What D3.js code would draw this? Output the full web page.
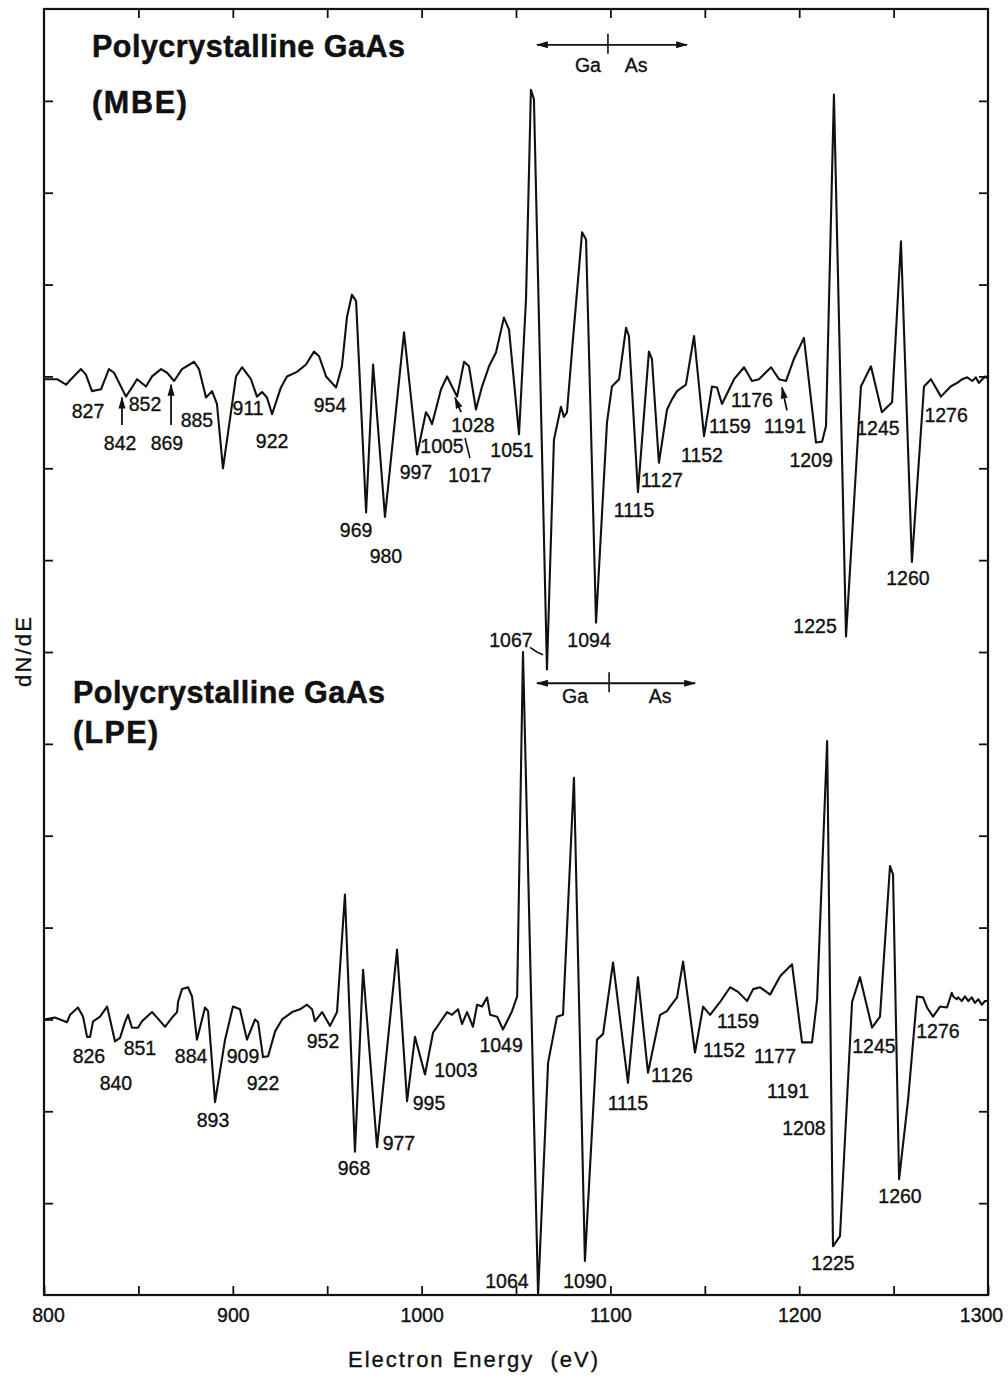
<!DOCTYPE html>
<html>
<head>
<meta charset="utf-8">
<script src="https://cdn.jsdelivr.net/npm/d3@7"></script>
<style>
  body { margin: 0; background: #fff; }
  text { font-family: "Liberation Sans", Arial, Helvetica, sans-serif; fill: #111; }
  .num { stroke: #111; stroke-width: 0.35px; }
</style>
</head>
<body>
<svg id="chart" width="1008" height="1379"></svg>
<script>
// Auger derivative spectra dN/dE vs. electron energy (eV), two GaAs samples.
// Signals are in arbitrary units (1 unit = one tick spacing of the dN/dE axis).

const mbeEnergy = [
  800.0, 806.9, 811.7, 814.3, 819.6, 822.2, 825.4, 830.2, 834.4, 837.1,
  843.4, 846.6, 849.3, 854.0, 857.2, 862.0, 865.2, 868.9, 873.1, 879.5,
  882.1, 885.8, 889.0, 891.6, 894.8, 901.7, 904.9, 909.6, 912.8, 915.5,
  918.1, 920.8, 925.5, 928.7, 934.0, 938.8, 943.0, 945.7, 949.4, 954.7,
  957.8, 960.5, 963.1, 965.3, 970.6, 974.3, 980.6, 990.7, 997.6, 1002.3,
  1003.9, 1005.5, 1010.3, 1013.5, 1016.1, 1018.8, 1022.5, 1025.1, 1028.8, 1032.0,
  1035.7, 1039.4, 1043.6, 1046.3, 1051.6, 1055.3, 1057.9, 1059.5, 1066.4, 1070.1,
  1073.8, 1075.4, 1077.0, 1079.7, 1085.0, 1087.1, 1092.4, 1098.2, 1100.8, 1104.6,
  1108.3, 1109.8, 1114.6, 1120.4, 1122.0, 1125.7, 1130.0, 1132.6, 1135.3, 1140.0,
  1144.3, 1149.6, 1153.8, 1156.5, 1159.1, 1165.5, 1170.8, 1175.0, 1178.7, 1185.1,
  1189.3, 1193.0, 1197.2, 1202.5, 1208.9, 1212.1, 1214.2, 1218.4, 1224.8, 1232.7,
  1238.0, 1243.8, 1249.2, 1253.9, 1259.7, 1266.1, 1269.8, 1275.1, 1280.2, 1283.7,
  1286.4, 1289.0, 1291.7, 1293.5, 1295.2, 1297.0, 1298.8, 1300.0
];
const mbeSignal = [
  -0.03, -0.03, -0.09, -0.03, 0.08, 0.02, -0.16, -0.14, 0.08, 0.04,
  -0.22, -0.12, -0.03, -0.11, 0.00, 0.08, 0.04, -0.05, 0.08, 0.16,
  0.08, -0.23, -0.16, -0.30, -1.00, 0.00, 0.10, -0.03, -0.22, -0.17,
  -0.23, -0.41, -0.12, 0.00, 0.05, 0.13, 0.27, 0.22, 0.00, -0.12,
  0.11, 0.65, 0.89, 0.82, -1.48, 0.13, -1.53, 0.48, -0.85, -0.39,
  -0.44, -0.52, -0.14, 0.00, -0.11, -0.22, 0.16, 0.11, -0.36, -0.11,
  0.11, 0.26, 0.64, 0.51, -0.63, 0.84, 3.12, 3.02, -3.19, -0.69,
  -0.33, -0.44, -0.39, 0.29, 1.57, 1.49, -2.68, -0.50, -0.11, -0.03,
  0.53, 0.44, -1.26, 0.27, 0.19, -0.94, -0.36, -0.25, -0.16, -0.09,
  0.44, -0.65, -0.11, -0.12, -0.30, -0.03, 0.10, -0.05, -0.03, 0.10,
  -0.03, -0.05, 0.19, 0.42, -0.72, -0.71, -0.54, 3.07, -2.83, -0.11,
  0.11, -0.39, -0.28, 1.47, -2.02, -0.11, -0.03, -0.22, -0.11, -0.07,
  -0.03, -0.01, -0.05, -0.01, -0.07, -0.03, 0.00, -0.03
];

const lpeEnergy = [
  800.0, 805.8, 812.2, 813.8, 818.0, 820.7, 822.8, 824.4, 826.0, 829.7,
  833.4, 835.0, 837.6, 840.3, 842.9, 844.5, 846.6, 849.8, 851.9, 857.2,
  859.9, 864.1, 867.8, 870.5, 871.0, 873.1, 876.3, 878.4, 881.0, 885.3,
  886.9, 890.6, 895.9, 900.1, 903.8, 907.5, 911.8, 913.4, 916.0, 918.7,
  922.4, 926.1, 931.4, 935.6, 939.3, 942.0, 943.5, 947.3, 951.5, 955.2,
  959.4, 964.7, 969.0, 976.4, 987.0, 992.3, 996.5, 1001.8, 1006.1, 1008.2,
  1013.5, 1016.1, 1019.3, 1021.4, 1024.1, 1027.2, 1029.4, 1032.0, 1034.7, 1036.3,
  1040.0, 1043.1, 1047.9, 1050.6, 1053.7, 1061.7, 1067.0, 1071.7, 1074.9, 1080.7,
  1086.5, 1092.9, 1096.1, 1101.4, 1109.3, 1114.6, 1119.9, 1126.3, 1130.0, 1131.6,
  1135.3, 1138.5, 1144.8, 1149.1, 1152.8, 1158.1, 1163.4, 1167.6, 1172.4, 1175.6,
  1179.3, 1184.6, 1189.9, 1196.2, 1201.5, 1206.8, 1209.5, 1214.8, 1217.9, 1221.6,
  1228.0, 1232.2, 1238.6, 1242.8, 1248.1, 1249.7, 1252.9, 1257.7, 1262.4, 1265.6,
  1267.7, 1270.9, 1274.6, 1278.3, 1280.8, 1281.6, 1283.4, 1284.2, 1286.1, 1287.8,
  1289.6, 1291.4, 1293.1, 1294.9, 1296.7, 1298.4, 1300.0
];
const lpeSignal = [
  0.00, 0.02, -0.03, 0.05, 0.13, 0.03, -0.19, -0.19, -0.02, 0.03,
  0.14, 0.00, -0.24, -0.20, -0.03, 0.05, -0.09, -0.09, -0.02, 0.08,
  0.02, -0.08, 0.02, 0.08, 0.19, 0.33, 0.35, 0.25, -0.22, 0.13,
  0.09, -0.90, -0.22, 0.14, 0.11, -0.22, 0.00, -0.03, -0.41, -0.40,
  -0.13, 0.00, 0.08, 0.11, 0.16, 0.11, -0.02, 0.08, -0.07, 0.08,
  1.36, -1.44, 0.54, -1.39, 0.76, -0.89, -0.19, -0.60, -0.14, -0.08,
  0.08, 0.05, 0.11, -0.05, 0.08, -0.08, 0.16, 0.14, 0.24, 0.05,
  0.03, -0.11, 0.09, 0.25, 4.00, -3.00, -0.47, 0.03, 0.05, 2.63,
  -2.63, -0.22, -0.16, 0.62, -0.69, 0.46, -0.58, 0.05, 0.09, 0.14,
  0.24, 0.63, -0.36, 0.14, 0.05, 0.19, 0.35, 0.30, 0.20, 0.33,
  0.35, 0.27, 0.47, 0.60, -0.25, -0.25, 0.22, 3.03, -2.47, -2.36,
  0.19, 0.46, -0.09, 0.03, 1.67, 1.58, -1.74, -0.87, 0.25, 0.24,
  0.13, 0.03, 0.14, 0.13, 0.29, 0.25, 0.22, 0.24, 0.20, 0.25,
  0.20, 0.24, 0.18, 0.22, 0.16, 0.20, 0.20
];

// vertical offsets of the two traces on the dN/dE axis
const mbeOffset = 10;
const lpeOffset = 3;

// axis ticks
const xTickValues = [800, 850, 900, 950, 1000, 1050, 1100, 1150, 1200, 1250, 1300];
const xTickLabels = ["800", "", "900", "", "1000", "", "1100", "", "1200", "", "1300"];
const yTickValues = [1, 2, 3, 4, 5, 6, 7, 8, 9, 10, 11, 12, 13];

// peak energies (eV) labelled on each trace
const mbePeaks = ["827", "842", "852", "869", "885", "911", "922", "954", "969", "980",
  "997", "1005", "1017", "1028", "1051", "1067", "1094", "1115", "1127", "1152",
  "1159", "1176", "1191", "1209", "1225", "1245", "1260", "1276"];
const lpePeaks = ["826", "840", "851", "884", "893", "909", "922", "952", "968", "977",
  "995", "1003", "1049", "1064", "1090", "1115", "1126", "1152", "1159", "1177",
  "1191", "1208", "1225", "1245", "1260", "1276"];

// where each peak label sits: [energy, dN/dE axis value] of the text baseline centre
const mbeLabelAt = [
  [823.3, 9.55], [840.3, 9.20], [853.5, 9.62], [865.1, 9.20], [881.0, 9.45], [908.1, 9.58],
  [920.8, 9.22], [951.5, 9.61], [965.3, 8.25], [981.1, 7.97], [997.0, 8.88], [1010.8, 9.17],
  [1025.6, 8.85], [1027.2, 9.39], [1047.9, 9.12], [1047.3, 7.05], [1088.7, 7.05], [1112.5, 8.47],
  [1127.3, 8.80], [1148.5, 9.07], [1163.3, 9.38], [1175.0, 9.67], [1192.5, 9.38], [1206.3, 9.01],
  [1208.4, 7.21], [1241.7, 9.36], [1257.6, 7.73], [1277.8, 9.50]
];
const lpeLabelAt = [
  [823.8, 2.53], [838.1, 2.23], [850.8, 2.61], [877.9, 2.53], [889.5, 1.83], [905.4, 2.53],
  [916.0, 2.23], [947.8, 2.69], [964.2, 1.31], [988.0, 1.58], [1003.9, 2.01], [1018.2, 2.37],
  [1042.1, 2.65], [1045.2, 0.08], [1086.5, 0.08], [1109.3, 2.01], [1132.6, 2.32], [1160.2, 2.59],
  [1167.6, 2.91], [1187.2, 2.53], [1194.1, 2.14], [1202.5, 1.74], [1217.9, 0.27], [1239.6, 2.63],
  [1253.4, 1.00], [1273.5, 2.80]
];

// pointer arrows and leader lines (energy, axis value pairs)
const arrowPointers = [
  [[841.3, 9.47], [841.3, 9.77]],
  [[867.3, 9.47], [867.3, 9.91]],
  [[1020.9, 9.61], [1017.7, 9.77]],
  [[1193.5, 9.63], [1190.9, 9.88]]
];
const leaderLines = [
  [[1023.0, 9.33], [1025.6, 9.11]],
  [[1057.4, 7.05], [1061.1, 7.00], [1064.3, 6.97]]
];

// Ga | As region markers
const regionMarkers = [
  { from: 1061.1, to: 1140.6, split: 1098.7, level: 13.61, textLevel: 13.31, ga: 1088.1, as: 1113.6 },
  { from: 1061.1, to: 1144.9, split: 1099.3, level: 6.66, textLevel: 6.44, ga: 1081.3, as: 1126.3 }
];

// sample titles
const titles = [
  { lines: ["Polycrystalline GaAs", "(MBE)"], at: [[825.4, 13.48], [825.4, 12.87]], len: [313, 95] },
  { lines: ["Polycrystalline GaAs", "(LPE)"], at: [[815.4, 6.44], [815.4, 6.01]], len: [312, 85] }
];

const svg = d3.select("#chart");
const x = d3.scaleLinear().domain([800, 1300]).range([44, 988]);
const y = d3.scaleLinear().domain([0, 14]).range([1295, 9]);

const defs = svg.append("defs");
defs.append("marker")
  .attr("id", "head").attr("viewBox", "0 0 12 8")
  .attr("refX", 11).attr("refY", 4)
  .attr("markerWidth", 12).attr("markerHeight", 8)
  .attr("markerUnits", "userSpaceOnUse")
  .attr("orient", "auto-start-reverse")
  .append("path").attr("d", "M0,0.5 L12,4 L0,7.5 Z").attr("fill", "#111");

// frame
svg.append("rect")
  .attr("x", x(800)).attr("y", y(14))
  .attr("width", x(1300) - x(800)).attr("height", y(0) - y(14))
  .attr("fill", "none").attr("stroke", "#111").attr("stroke-width", 2.2);

// axes with inward ticks
const tickStyle = g => {
  g.select(".domain").remove();
  g.selectAll(".tick line").attr("stroke", "#111").attr("stroke-width", 1.8);
};
const bottom = svg.append("g").attr("transform", `translate(0,${y(0)})`)
  .call(d3.axisBottom(x).tickValues(xTickValues)
    .tickFormat((d, i) => xTickLabels[i]).tickSizeInner(-9).tickSizeOuter(0).tickPadding(13))
  .call(tickStyle);
bottom.selectAll(".tick text")
  .attr("class", "num")
  .attr("font-size", 19.5).attr("fill", "#111")
  .attr("font-family", "'Liberation Sans', Arial, Helvetica, sans-serif")
  .attr("dx", d => d === 800 ? 4 : d === 1300 ? -7 : 0);

svg.append("g").attr("transform", `translate(0,${y(14)})`)
  .call(d3.axisTop(x).tickValues(xTickValues.slice(1, -1)).tickFormat("").tickSizeInner(-9).tickSizeOuter(0))
  .call(tickStyle);
svg.append("g").attr("transform", `translate(${x(800)},0)`)
  .call(d3.axisLeft(y).tickValues(yTickValues).tickFormat("").tickSizeInner(-9).tickSizeOuter(0))
  .call(tickStyle);
svg.append("g").attr("transform", `translate(${x(1300)},0)`)
  .call(d3.axisRight(y).tickValues(yTickValues).tickFormat("").tickSizeInner(-9).tickSizeOuter(0))
  .call(tickStyle);

// axis titles
svg.append("text")
  .attr("class", "num")
  .attr("x", 473).attr("y", 1367).attr("text-anchor", "middle")
  .attr("font-size", 22).attr("textLength", 250).attr("lengthAdjust", "spacing")
  .style("white-space", "pre")
  .text("Electron Energy  (eV)");
svg.append("text")
  .attr("class", "num")
  .attr("transform", "translate(31,652) rotate(-90)").attr("text-anchor", "middle")
  .attr("font-size", 22).attr("textLength", 70).attr("lengthAdjust", "spacing")
  .text("dN/dE");

// spectra
const line = d3.line().x(d => x(d[0])).y(d => y(d[1]));
const traces = [
  { e: mbeEnergy, s: mbeSignal, off: mbeOffset },
  { e: lpeEnergy, s: lpeSignal, off: lpeOffset }
];
traces.forEach(t => {
  svg.append("path")
    .datum(t.e.map((e, i) => [e, t.off + t.s[i]]))
    .attr("d", line)
    .attr("fill", "none").attr("stroke", "#111")
    .attr("stroke-width", 2.1).attr("stroke-linejoin", "round").attr("stroke-linecap", "round");
});

// peak labels
const labelGroups = [
  { text: mbePeaks, at: mbeLabelAt },
  { text: lpePeaks, at: lpeLabelAt }
];
labelGroups.forEach(g => {
  svg.append("g").selectAll("text").data(g.text).join("text")
    .attr("class", "num")
    .attr("x", (d, i) => x(g.at[i][0]))
    .attr("y", (d, i) => y(g.at[i][1]))
    .attr("text-anchor", "middle").attr("font-size", 19.5)
    .text(d => d);
});

// arrows and leaders
arrowPointers.forEach(p => {
  svg.append("path").attr("d", line(p))
    .attr("stroke", "#111").attr("stroke-width", 1.8).attr("fill", "none")
    .attr("marker-end", "url(#head)");
});
leaderLines.forEach(p => {
  svg.append("path").attr("d", line(p))
    .attr("stroke", "#111").attr("stroke-width", 1.6).attr("fill", "none");
});

// Ga | As markers
regionMarkers.forEach(m => {
  svg.append("path").attr("d", line([[m.from, m.level], [m.to, m.level]]))
    .attr("stroke", "#111").attr("stroke-width", 1.8)
    .attr("marker-start", "url(#head)").attr("marker-end", "url(#head)");
  svg.append("line")
    .attr("x1", x(m.split)).attr("x2", x(m.split))
    .attr("y1", y(m.level) - 11).attr("y2", y(m.level) + 9)
    .attr("stroke", "#111").attr("stroke-width", 1.6);
  svg.append("text").attr("class", "num").attr("x", x(m.ga)).attr("y", y(m.textLevel))
    .attr("text-anchor", "middle").attr("font-size", 19.5).text("Ga");
  svg.append("text").attr("class", "num").attr("x", x(m.as)).attr("y", y(m.textLevel))
    .attr("text-anchor", "middle").attr("font-size", 19.5).text("As");
});

// sample titles
titles.forEach(t => {
  t.lines.forEach((s, i) => {
    svg.append("text")
      .attr("x", x(t.at[i][0])).attr("y", y(t.at[i][1]))
      .attr("font-size", 30.5).attr("font-weight", "bold")
      .attr("stroke", "#111").attr("stroke-width", 0.5)
      .attr("textLength", t.len[i]).attr("lengthAdjust", "spacing")
      .text(s);
  });
});
</script>
</body>
</html>
